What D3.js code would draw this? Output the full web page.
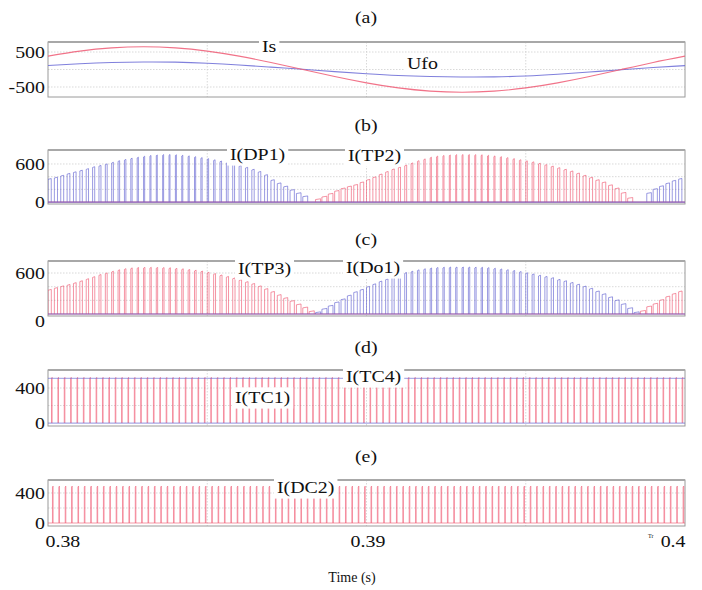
<!DOCTYPE html>
<html><head><meta charset="utf-8">
<script src="https://cdn.jsdelivr.net/npm/d3@7"></script>
<style>body{margin:0;background:#fff}svg{display:block}text{font-family:"Liberation Serif","Times New Roman",serif;fill:#111}</style>
</head><body><svg id="c" width="702" height="590"></svg>
<script>
// ---------- data ----------
const timeDomain = [0.38, 0.40];
const xTicks = [0.38, 0.39, 0.40];
const xTickLabels = ["0.38", "0.39", "0.4"];
const gridTimes = [0.385, 0.39, 0.395];
const switchPeriod = 0.0002; // switching period, s

// panel (a): samples every 1 ms
const sineTimes = [0.380,0.381,0.382,0.383,0.384,0.385,0.386,0.387,0.388,0.389,0.390,0.391,0.392,0.393,0.394,0.395,0.396,0.397,0.398,0.399,0.400];
const isValues  = [382,526,618,650,618,526,382,201,0,-201,-382,-526,-618,-650,-618,-526,-382,-201,0,201,382];
const ufoValues = [115,165,200,215,210,180,130,68,5,-60,-120,-170,-200,-215,-212,-185,-135,-72,-5,55,110];

// panel (b): pulse heights, pulse index = start index + position
const dp1StartA = 0;
const dp1A = [358,380,410,440,465,490,515,545,565,590,615,640,660,680,695,710,722,730,736,737,733,726,716,703,688,672,654,635,613,590,563,535,505,470,420,340,290,240,185,135,85];
const tp2Start = 42;
const tp2 = [40,80,125,170,210,240,265,305,345,385,430,470,510,540,570,605,640,668,695,712,722,730,735,737,737,735,733,725,715,703,688,672,655,637,622,600,578,555,530,505,478,445,410,378,340,305,260,210,140,60];
const dp1StartB = 94;
const dp1B = [137,200,245,290,330,360];

// panel (c)
const tp3StartA = 0;
const tp3A = [348,375,400,420,447,475,505,535,566,590,615,636,652,663,669,671,671,670,668,665,657,650,640,630,617,600,580,560,538,516,490,462,435,400,360,318,272,228,185,135,90,35];
const do1Start = 42;
const do1 = [20,70,115,165,210,265,315,350,392,430,470,502,535,568,595,615,635,650,662,669,673,676,676,676,676,674,672,667,658,648,637,625,610,592,575,556,538,520,495,475,450,425,397,365,325,285,240,195,140,80,20];
const tp3StartB = 93;
const tp3B = [40,105,145,200,250,290,325];

// panels (d), (e): constant-level pulse trains
const tc1Level = 510, tc1Count = 100, tc4Level = 510;
const dc2Level = 480, dc2Count = 100;

// tick values
const ticksA = [500, -500];
const ticksB = [600, 0];
const ticksC = [600, 0];
const ticksD = [400, 0];
const ticksE = [400, 0];

// ---------- layout ----------
const svg = d3.select("#c");
const L = 48, R = 685;
const RED = "#ef5670", BLUE = "#5f5fd0";
const x = d3.scaleLinear().domain(timeDomain).range([L, R]);
const SX = 1.17;

function stretchText(g, str, px, py, anchor, size) {
  return g.append("text").text(str).attr("font-size", size || 17)
    .attr("text-anchor", anchor || "start")
    .attr("transform", `translate(${px},${py}) scale(${SX},1)`);
}

function panel(top, bottom, domain, ticks, grid, title, titleY, zeroDy) {
  const y = d3.scaleLinear().domain(domain).range([bottom, top]);
  const g = svg.append("g");
  g.selectAll(".gh").data(grid).join("line")
    .attr("x1", L).attr("x2", R).attr("y1", d => y(d)).attr("y2", d => y(d))
    .attr("stroke", "#cfcfcf").attr("stroke-width", 0.8).attr("stroke-dasharray", "1.5,1.5");
  g.selectAll(".gv").data(gridTimes).join("line")
    .attr("x1", d => x(d)).attr("x2", d => x(d)).attr("y1", top).attr("y2", bottom)
    .attr("stroke", "#cfcfcf").attr("stroke-width", 0.8).attr("stroke-dasharray", "1.5,1.5");
  g.append("rect").attr("x", L).attr("y", top).attr("width", R - L).attr("height", bottom - top)
    .attr("fill", "none").attr("stroke", "#9a9a9a").attr("stroke-width", 1);
  g.append("line").attr("x1", L).attr("x2", R).attr("y1", top).attr("y2", top)
    .attr("stroke", "#a8a8a8").attr("stroke-width", 2);
  const ax = g.append("g").attr("transform", `translate(${L},0)`)
    .call(d3.axisLeft(y).tickValues(ticks).tickSize(0).tickPadding(3).tickFormat(d => String(d)));
  ax.select(".domain").remove();
  ax.selectAll(".tick").each(function(d){
    const ty = y(d) + (d === 0 ? (zeroDy || 0) : 0);
    d3.select(this).attr("transform", `translate(0,${ty})`);
    d3.select(this).select("text").attr("font-size", 17).attr("font-family", '"Liberation Serif",serif')
      .attr("fill", "#111").attr("x", -3 / SX).attr("dy", "0.36em").attr("transform", `scale(${SX},1)`);
  });
  stretchText(svg, title, 366, titleY, "middle", 17);
  const clipId = "clip" + Math.round(top);
  svg.append("clipPath").attr("id", clipId).append("rect")
    .attr("x", L).attr("y", top).attr("width", R - L).attr("height", bottom - top);
  const plot = svg.append("g").attr("clip-path", `url(#${clipId})`);
  return { y, plot, g, top, bottom };
}

function pulses(p, startIdx, heights, color, dutyFn, offset, sw, op) {
  const y = p.y;
  let d = "";
  heights.forEach((h, i) => {
    const k = startIdx + i;
    const t0 = timeDomain[0] + (k + offset) * switchPeriod;
    const t1 = t0 + dutyFn(h) * switchPeriod;
    const x0 = x(t0), x1 = Math.min(x(t1), R);
    d += `M${x0},${y(0)}V${y(h)}L${x1},${y(h + 12)}V${y(0)}`;
  });
  p.plot.append("path").attr("d", d).attr("fill", "none").attr("stroke", color)
    .attr("stroke-width", sw || 1).attr("stroke-opacity", op || 0.7);
}
function baseline(p, color, v, op) {
  p.plot.append("line").attr("x1", L).attr("x2", R).attr("y1", p.y(v || 0)).attr("y2", p.y(v || 0))
    .attr("stroke", color).attr("stroke-width", 1.2).attr("stroke-opacity", op || 0.75);
}
function label(str, px, py) {
  const t = stretchText(svg, str, px, py, "start", 17);
  const b = t.node().getBBox();
  const w = b.width * SX;
  svg.insert("rect", function(){ return t.node(); })
    .attr("x", px - 3).attr("y", py + b.y - 1).attr("width", w + 6).attr("height", b.height + 2)
    .attr("fill", "#fff");
}
const duty = h => Math.max(0.14, Math.min(0.8, 0.85 - 0.00095 * h));

// ---------- panel (a) ----------
const pa = panel(42, 97, [-786, 786], ticksA, [500, 0, -500], "(a)", 23);
const lineA = d3.line().x((d, i) => x(sineTimes[i])).y(d => pa.y(d)).curve(d3.curveNatural);
pa.plot.append("path").attr("d", lineA(ufoValues)).attr("fill", "none").attr("stroke", "#6a6ad6").attr("stroke-width", 1.1).attr("stroke-opacity", 0.85);
pa.plot.append("path").attr("d", lineA(isValues)).attr("fill", "none").attr("stroke", "#ee5a74").attr("stroke-width", 1.1).attr("stroke-opacity", 0.85);
label("Is", 262, 52);
label("Ufo", 407, 69);

// ---------- panel (b) ----------
const pb = panel(150, 204, [-30, 820], ticksB, [600, 400, 200], "(b)", 131);
pulses(pb, tp2Start, tp2, RED, duty, 0, 0.9);
pulses(pb, dp1StartA, dp1A, BLUE, duty, 0, 0.9);
pulses(pb, dp1StartB, dp1B, BLUE, duty, 0, 0.9);
baseline(pb, RED); baseline(pb, BLUE);
label("I(DP1)", 230, 160);
label("I(TP2)", 348, 161);

// ---------- panel (c) ----------
const pc = panel(261, 316, [-29, 776], ticksC, [600, 400, 200], "(c)", 245, 7);
pulses(pc, do1Start, do1, BLUE, duty, 0, 0.9);
pulses(pc, tp3StartA, tp3A, RED, duty, 0, 0.9);
pulses(pc, tp3StartB, tp3B, RED, duty, 0, 0.9);
baseline(pc, RED); baseline(pc, BLUE);
label("I(TP3)", 238, 274);
label("I(Do1)", 346, 273);

// ---------- panel (d) ----------
const pd = panel(370, 426, [-34, 606], ticksD, [400, 200], "(d)", 353);
pulses(pd, 0, d3.range(tc1Count).map(() => tc1Level), RED, () => 0.1, 0.55, 0.9, 0.65);
baseline(pd, BLUE, tc4Level, 0.5);
baseline(pd, BLUE, 0, 0.55);
label("I(TC4)", 346, 382);
label("I(TC1)", 235, 403);

// ---------- panel (e) ----------
const pe = panel(480, 526, [-40, 573], ticksE, [400, 200], "(e)", 462);
pulses(pe, 0, d3.range(dc2Count).map(() => dc2Level), RED, () => 0.1, 0.7, 0.9, 0.65);
baseline(pe, RED, 0, 0.6);
label("I(DC2)", 277, 493);

// ---------- x axis ----------
const xa = svg.append("g").attr("transform", "translate(0,532)")
  .call(d3.axisBottom(x).tickValues(xTicks).tickSize(0).tickPadding(0).tickFormat((d, i) => xTickLabels[i]));
xa.select(".domain").remove();
xa.selectAll(".tick").each(function(d, i){
  d3.select(this).select("text")
    .attr("font-size", 17).attr("font-family", '"Liberation Serif",serif').attr("fill", "#111")
    .attr("dy", "0").attr("y", 15)
    .attr("text-anchor", ["start", "middle", "end"][i])
    .attr("transform", `translate(${[-3, 1, 0][i]},0) scale(${SX},1)`);
});
svg.append("text").text("Tr").attr("x", 648).attr("y", 538).attr("font-size", 6).attr("fill", "#888");
svg.append("text").text("Time (s)").attr("x", 352).attr("y", 582).attr("text-anchor", "middle").attr("font-size", 14);
</script></body></html>
